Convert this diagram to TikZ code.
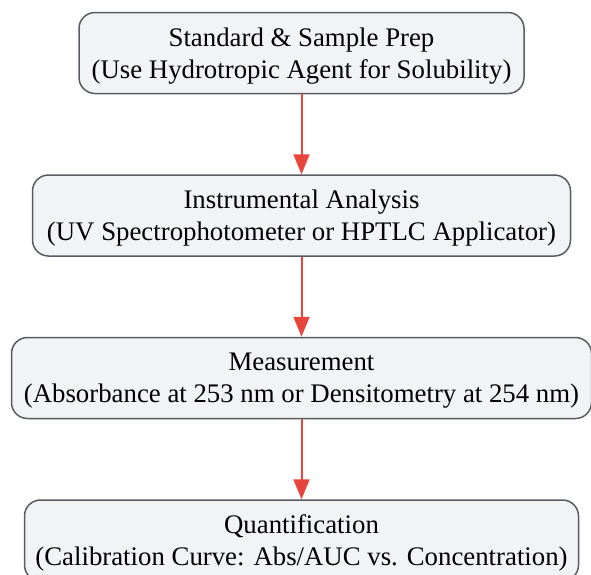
\documentclass[tikz,border=0pt]{standalone}
\usepackage{fontspec}
\setmainfont{Liberation Serif}
\usetikzlibrary{positioning,arrows.meta}
\definecolor{boxfill}{HTML}{F2F3F5}
\definecolor{boxline}{HTML}{585C62}
\definecolor{flowred}{HTML}{E8453C}
\newcommand\fillColor{boxfill}

\begin{document}
\begin{tikzpicture}[x=1pt,y=1pt,
    stage/.style={draw=boxline, line width=1.5pt, fill=\fillColor, rounded corners=16pt,
        align=center, minimum height=81pt, inner sep=0pt, text depth=0pt,
        font=\fontsize{26.8}{32}\selectfont},
    flow/.style={color=flowred, line width=2pt, -{Triangle[length=20pt,width=16pt]}},
    node distance=80pt]
    \useasboundingbox (0,0) rectangle (591,-574);

    \node[stage, minimum width=445pt] (prep) at (301.5,-53) {Standard \& Sample Prep\\(Use Hydrotropic Agent for Solubility)};
    \node[stage, minimum width=538pt, below=of prep] (instr) {Instrumental Analysis\\(UV Spectrophotometer or HPTLC Applicator)};
    \node[stage, minimum width=580pt, below=of instr] (meas) {Measurement\\(Absorbance at 253 nm or Densitometry at 254 nm)};
    \node[stage, minimum width=554pt, below=of meas] (quant) {Quantification\\(Calibration Curve: Abs/AUC vs. Concentration)};

    \draw[flow] (prep) -- (instr);
    \draw[flow] (instr) -- (meas);
    \draw[flow] (meas) -- (quant);
\end{tikzpicture}
\end{document}
